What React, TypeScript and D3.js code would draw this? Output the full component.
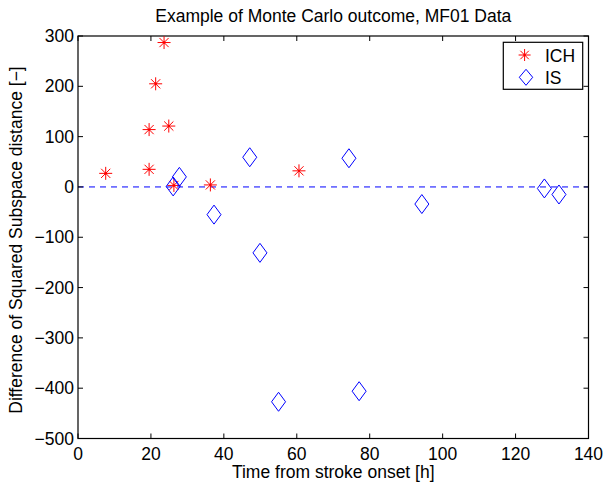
import React from 'react'
import * as d3 from 'd3'

// values
const ichTime = [7.6, 19.5, 19.5, 21.3, 23.6, 24.9, 26.3, 36.3, 60.6]
const ichDiff = [27, 35, 114, 205, 287, 121, 3, 4, 32]
const isTime = [26.1, 27.8, 37.3, 47.1, 49.9, 55.0, 74.3, 77.1, 94.3, 127.9, 131.9]
const isDiff = [1, 20, -55, 59, -131, -427, 57, -406, -34, -3, -15]
const xTicks = [0, 20, 40, 60, 80, 100, 120, 140]
const yTicks = [-500, -400, -300, -200, -100, 0, 100, 200, 300]
const legendLabels = ['ICH', 'IS']

const W = 605, H = 483
const margin = { top: 36, right: 16.5, bottom: 44.5, left: 78 }
const FONT = '"Liberation Sans", Arial, Helvetica, sans-serif'
const FS = 17.5

const x = d3.scaleLinear().domain([0, 140]).range([margin.left, W - margin.right])
const y = d3.scaleLinear().domain([-500, 300]).range([H - margin.bottom, margin.top])

const starPath = (r: number) => {
  const d = r * 0.7071
  return `M${-r},0L${r},0M0,${-r}L0,${r}M${-d},${-d}L${d},${d}M${-d},${d}L${d},${-d}`
}
const diamondPath = (w: number, h: number) => `M0,${-h}L${w},0L0,${h}L${-w},0Z`

const fmt = (v: number) => (v < 0 ? '\u2212' + Math.abs(v) : String(v))

export default function App() {
  const [x0, x1] = x.range()
  const [y0, y1] = y.range()
  const tick = 5
  const ich = ichTime.map((t, i) => ({ t, v: ichDiff[i] }))
  const is = isTime.map((t, i) => ({ t, v: isDiff[i] }))

  return (
    <svg width={W} height={H} style={{ position: 'absolute', left: 0, top: 0, background: '#fff' }}
      fontFamily={FONT}>
      <rect x={0} y={0} width={W} height={H} fill="#fff" />
      <text x={(x0 + x1) / 2} y={22} textAnchor="middle" fontSize={FS}>
        Example of Monte Carlo outcome, MF01 Data
      </text>

      {/* zero line */}
      <line x1={x0} x2={x1} y1={y(0)} y2={y(0)} stroke="#0000ff" strokeWidth={1} strokeDasharray="6,5" />

      {/* ticks on all sides */}
      {xTicks.map(t => (
        <g key={'xt' + t}>
          <line x1={x(t)} x2={x(t)} y1={y0} y2={y0 - tick} stroke="#000" />
          <line x1={x(t)} x2={x(t)} y1={y1} y2={y1 + tick} stroke="#000" />
          <text x={x(t)} y={y0 + 21} textAnchor="middle" fontSize={FS}>{fmt(t)}</text>
        </g>
      ))}
      {yTicks.map(t => (
        <g key={'yt' + t}>
          <line x1={x0} x2={x0 + tick} y1={y(t)} y2={y(t)} stroke="#000" />
          <line x1={x1} x2={x1 - tick} y1={y(t)} y2={y(t)} stroke="#000" />
          <text x={x0 - 4} y={y(t) + 6} textAnchor="end" fontSize={FS}>{fmt(t)}</text>
        </g>
      ))}
      <rect x={x0} y={y1} width={x1 - x0} height={y0 - y1} fill="none" stroke="#000" strokeWidth={1.2} />

      {/* markers */}
      {ich.map((d, i) => (
        <g key={'ich' + i} transform={`translate(${x(d.t)},${y(d.v)})`}>
          <path d={starPath(6.5)} stroke="#ff0000" strokeWidth={1} fill="none" />
          <circle r={1.2} fill="#ff0000" />
        </g>
      ))}
      {is.map((d, i) => (
        <path key={'is' + i} d={diamondPath(7, 9.5)} transform={`translate(${x(d.t)},${y(d.v)})`}
          stroke="#0000ff" strokeWidth={1} fill="none" />
      ))}

      {/* axis titles */}
      <text x={(x0 + x1) / 2} y={478} textAnchor="middle" fontSize={FS}>Time from stroke onset [h]</text>
      <text transform={`translate(22,240) rotate(-90)`} textAnchor="middle" fontSize={FS}>
        {'Difference of Squared Subspace distance [\u2212]'}
      </text>

      {/* legend */}
      <g transform="translate(503.3,42.3)">
        <rect x={0} y={0} width={79.4} height={47} fill="#fff" stroke="#000" strokeWidth={1.2} />
        {legendLabels.map((l, i) => (
          <g key={l} transform={`translate(0,${12.7 + i * 22.3})`}>
            {i === 0
              ? <g transform="translate(21.3,0)">
                  <path d={starPath(6)} stroke="#ff0000" fill="none" />
                  <circle r={1.2} fill="#ff0000" />
                </g>
              : <path d={diamondPath(6.7, 8)} transform="translate(22.7,0)" stroke="#0000ff" fill="none" />}
            <text x={41.7} y={6.7} fontSize={FS}>{l}</text>
          </g>
        ))}
      </g>
    </svg>
  )
}
